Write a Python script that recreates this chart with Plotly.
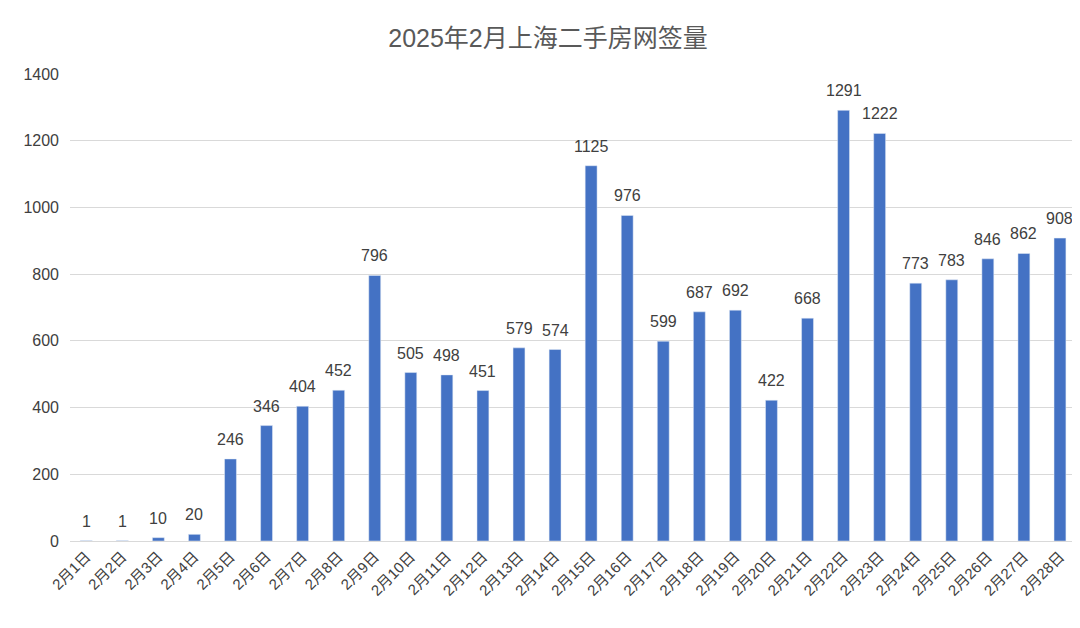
import plotly.graph_objects as go

days = [f"2月{i}日" for i in range(1, 29)]
counts = [1, 1, 10, 20, 246, 346, 404, 452, 796, 505, 498, 451, 579, 574,
          1125, 976, 599, 687, 692, 422, 668, 1291, 1222, 773, 783, 846, 862, 908]

font = "Liberation Sans, Noto Sans CJK SC, sans-serif"

fig = go.Figure()
fig.add_trace(go.Bar(x=days, y=counts, marker_color="#4472c4", width=0.33))

# value labels above bars
for d, c in zip(days, counts):
    fig.add_annotation(x=d, y=c, text=str(c), showarrow=False, yanchor="bottom",
                       yshift=9, font=dict(size=16, color="#404040"))

fig.update_layout(
    width=1080, height=628,
    margin=dict(l=62, r=10, t=66, b=95),
    paper_bgcolor="white", plot_bgcolor="white",
    font=dict(family=font, color="#404040"),
    title=dict(text="2025年2月上海二手房网签量", x=0.5, y=0.965,
               xanchor="center", font=dict(size=25, color="#595959")),
    showlegend=False,
)
fig.update_xaxes(tickangle=-45, tickfont=dict(size=15, color="#404040"),
                 range=[-0.45, 27.5], automargin=False,
                 showline=True, linecolor="#d9d9d9", ticks="")
fig.update_yaxes(range=[0, 1400], dtick=200, gridcolor="#d9d9d9",
                 tickfont=dict(size=16, color="#404040"), zeroline=False,
                 automargin=False, ticks="", ticklabelstandoff=10)

fig.write_html("out.html")
